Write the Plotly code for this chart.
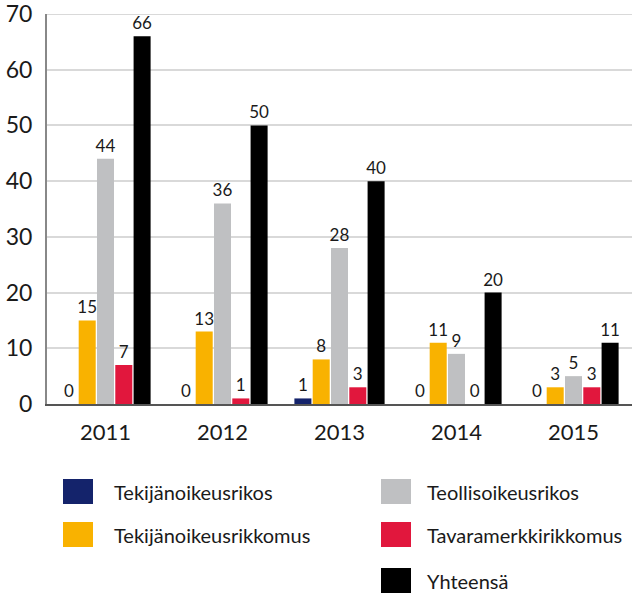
import plotly.graph_objects as go

years = ["2011", "2012", "2013", "2014", "2015"]
series_names = ["Tekijänoikeusrikos", "Tekijänoikeusrikkomus", "Teollisoikeusrikos",
                "Tavaramerkkirikkomus", "Yhteensä"]
tekijanoikeusrikos = [0, 0, 1, 0, 0]
tekijanoikeusrikkomus = [15, 13, 8, 11, 3]
teollisoikeusrikos = [44, 36, 28, 9, 5]
tavaramerkkirikkomus = [7, 1, 3, 0, 3]
yhteensa = [66, 50, 40, 20, 11]
values = [tekijanoikeusrikos, tekijanoikeusrikkomus, teollisoikeusrikos,
          tavaramerkkirikkomus, yhteensa]
colors = ["#14236B", "#F9B200", "#BFC0C2", "#E1173D", "#000000"]
y_ticks = [0, 10, 20, 30, 40, 50, 60, 70]

FONT = "Lato, 'DejaVu Sans', sans-serif"
TXT = "#1a1a1a"

PAGE_W, PAGE_H = 632, 593
PL, PT, PB = 47, 14, 404  # plot area left / top / bottom in page pixels

fig = go.Figure()
for name, vals, col in zip(series_names, values, colors):
    fig.add_trace(go.Bar(
        x=years, y=vals, name=name, marker=dict(color=col, line=dict(width=0)),
        text=[str(v) for v in vals], textposition="outside", constraintext="none",
        textfont=dict(family=FONT, size=17, color=TXT),
        cliponaxis=False, showlegend=False,
    ))

# top gridline at 70
fig.add_shape(type="line", xref="paper", yref="y", x0=0, x1=1, y0=y_ticks[-1], y1=y_ticks[-1],
              line=dict(color="#D9D9D9", width=2), layer="below")

# Legend (two columns), built from the series names/colors
legend_layout = [(0, 0), (0, 1), (1, 0), (1, 1), (1, 2)]  # (column, row)
W = PAGE_W - PL
H = PB - PT
col_x = [63, 381]
text_x = [112, 425]
row_y = [479, 522, 568]
SW, SH = 30, 25
for (c, r), name, col in zip(legend_layout, series_names, colors):
    x0 = (col_x[c] - PL) / W
    x1 = (col_x[c] + SW - PL) / W
    y_top = (PB - row_y[r]) / H
    y_bot = (PB - row_y[r] - SH) / H
    fig.add_shape(type="rect", xref="paper", yref="paper", x0=x0, x1=x1, y0=y_bot, y1=y_top,
                  fillcolor=col, line=dict(width=0))
    fig.add_annotation(xref="paper", yref="paper", x=(text_x[c] - PL) / W,
                       y=(PB - row_y[r] - SH / 2) / H, text=name, showarrow=False,
                       xanchor="left", yanchor="middle",
                       font=dict(family=FONT, size=20, color=TXT))

fig.update_layout(
    width=PAGE_W, height=PAGE_H,
    margin=dict(l=PL, r=0, t=PT, b=PAGE_H - PB, autoexpand=False),
    paper_bgcolor="white", plot_bgcolor="white",
    barmode="group", bargap=0.218, bargroupgap=0.07,
    font=dict(family=FONT, color=TXT),
    xaxis=dict(
        showgrid=False, showline=True, linecolor="#555555", linewidth=2,
        ticks="", tickfont=dict(family=FONT, size=22, color=TXT),
        ticklabelstandoff=8, automargin=False,
    ),
    yaxis=dict(
        range=[0, 70], tickvals=y_ticks, showgrid=True, gridcolor="#D9D9D9", gridwidth=2,
        showline=True, linecolor="#888888", linewidth=2, zeroline=False,
        ticks="", tickfont=dict(family=FONT, size=23, color=TXT),
        ticklabelstandoff=8, ticklabeloverflow="allow", automargin=False,
    ),
)

fig.write_html("out.html", config={"displayModeBar": False},
               post_script="document.body.style.margin='0';document.body.style.overflow='hidden';")
